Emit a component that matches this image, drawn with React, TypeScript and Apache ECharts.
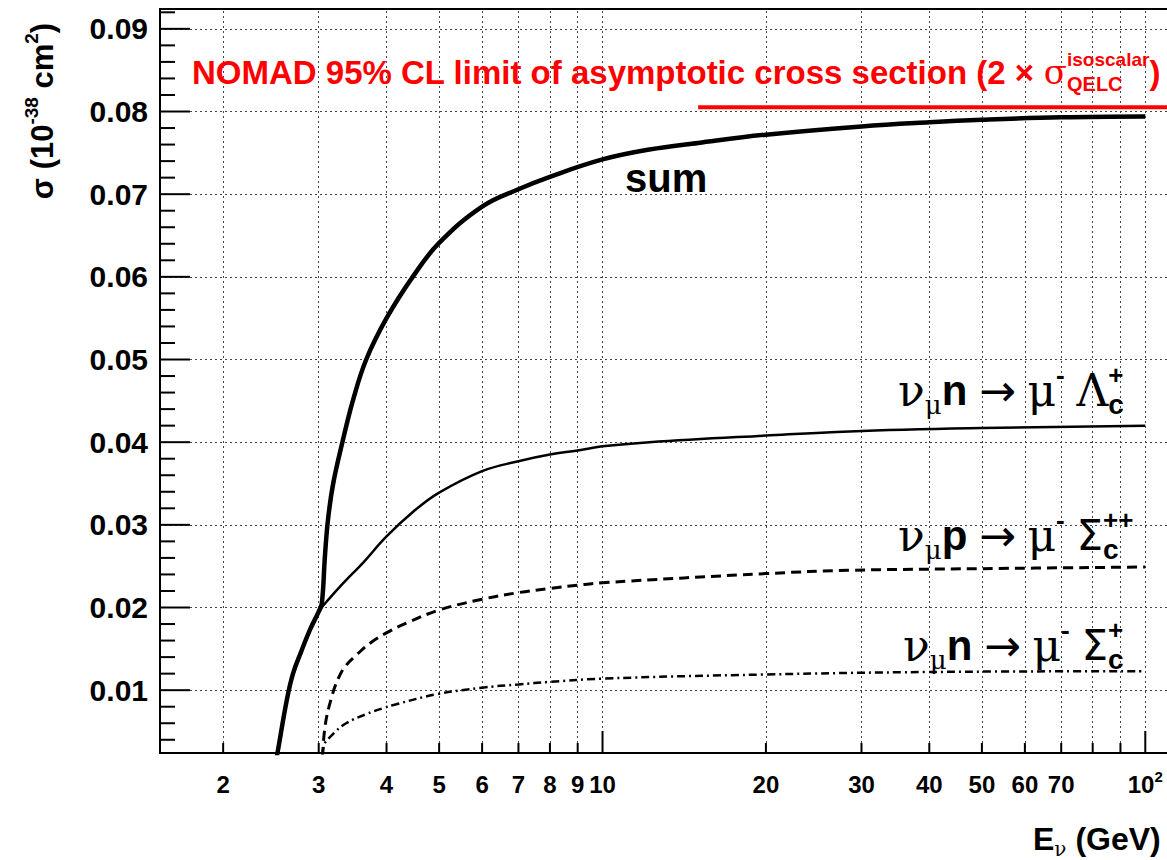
import React, { useEffect, useRef } from 'react';
import * as echarts from 'echarts';

// ---- data (E in GeV, sigma in 1e-38 cm^2) ----
const sumE = [2.48, 2.52, 2.62, 2.69, 2.79, 2.89, 3.0, 3.04, 3.08, 3.12, 3.19, 3.32, 3.47, 3.67, 4.0, 4.47, 5.0, 6.0, 7.0, 8.0, 10, 12.2, 15, 20, 30, 40, 50, 70, 100];
const sumSigma = [0.0, 0.0025, 0.0088, 0.012, 0.0148, 0.0173, 0.0195, 0.0205, 0.0262, 0.0306, 0.035, 0.0401, 0.0451, 0.05, 0.055, 0.06, 0.0641, 0.0685, 0.0706, 0.0721, 0.0742, 0.0754, 0.0762, 0.0772, 0.0782, 0.0787, 0.079, 0.0793, 0.0794];

const lambdaE = [2.47, 2.52, 2.62, 2.69, 2.79, 2.89, 3.0, 3.14, 3.28, 3.45, 3.62, 4.0, 4.5, 5.0, 6.0, 7.0, 8.0, 9.0, 10, 12.2, 20, 28.5, 50, 100];
const lambdaSigma = [0.0, 0.0025, 0.0088, 0.012, 0.0148, 0.0173, 0.0195, 0.0211, 0.0225, 0.024, 0.0254, 0.0286, 0.0317, 0.0339, 0.0365, 0.0377, 0.0385, 0.039, 0.0395, 0.04, 0.0408, 0.0413, 0.0417, 0.042];

const sigmaPPE = [3.04, 3.08, 3.18, 3.28, 3.37, 3.5, 3.75, 4.07, 4.35, 5.0, 6.0, 7.0, 8.0, 9.0, 10, 20, 28.5, 50, 100];
const sigmaPPSigma = [0.0, 0.0055, 0.0095, 0.0118, 0.013, 0.0141, 0.0158, 0.0172, 0.0181, 0.0197, 0.021, 0.0218, 0.0223, 0.0227, 0.023, 0.0241, 0.0245, 0.0247, 0.0249];

const sigmaPE = [3.04, 3.06, 3.2, 3.37, 3.67, 3.93, 4.17, 4.94, 6.0, 7.0, 8.0, 10, 20, 40, 100];
const sigmaPSigma = [0.0, 0.0031, 0.0048, 0.006, 0.0071, 0.0078, 0.0083, 0.0095, 0.0103, 0.0107, 0.011, 0.0114, 0.0119, 0.0122, 0.0123];

const nomadLimit = 0.0805;
const nomadStartE = 15;
const nomadEndE = 130;

// ---- axes ----
const X_MIN = 1.53;
const X_MAX = 112;
const Y_MIN = 0.0024;
const Y_MAX = 0.0924;
const xLabelValues = [2, 3, 4, 5, 6, 7, 8, 9, 10, 20, 30, 40, 50, 60, 70, 100];
const xMinorTicks = [2, 3, 4, 5, 6, 7, 8, 9, 20, 30, 40, 50, 60, 70, 80, 90];
const xMajorTicks = [10, 100];
const xGridValues = [2, 3, 4, 5, 6, 7, 8, 9, 10, 20, 30, 40, 50, 60, 70, 80, 90, 100];
const yMajorValues = [0.01, 0.02, 0.03, 0.04, 0.05, 0.06, 0.07, 0.08, 0.09];
const yMinorValues = [0.004, 0.006, 0.008, 0.012, 0.014, 0.016, 0.018, 0.022, 0.024, 0.026, 0.028, 0.032, 0.034, 0.036, 0.038, 0.042, 0.044, 0.046, 0.048, 0.052, 0.054, 0.056, 0.058, 0.062, 0.064, 0.066, 0.068, 0.072, 0.074, 0.076, 0.078, 0.082, 0.084, 0.086, 0.088, 0.092];

// ---- layout ----
const CHART_W = 1180;
const CHART_H = 860;
const GRID = { left: 160, top: 9, right: 8, bottom: 107 };
const GRID_W = CHART_W - GRID.left - GRID.right;
const GRID_H = CHART_H - GRID.top - GRID.bottom;

const SANS = "'Liberation Sans', Arial, Helvetica, sans-serif";
const GREEK = "'DejaVu Serif', 'Liberation Serif', serif";
const DEJAVU = "'DejaVu Sans', sans-serif";

const zip = (xs: number[], ys: number[]) => xs.map((x, i) => [x, ys[i]]);

// tick lengths (pixels) expressed in the axes' own units
const logSpan = Math.log10(X_MAX) - Math.log10(X_MIN);
const xAfterPixels = (px: number) => X_MIN * Math.pow(10, (px / GRID_W) * logSpan);
const yAfterPixels = (px: number) => Y_MIN + (px / GRID_H) * (Y_MAX - Y_MIN);

const tickSeries = (name: string, pts: number[][]) => ({
  name, type: 'line', z: 7, silent: true, symbol: 'none', animation: false, clip: false,
  data: pts, lineStyle: { color: '#000', width: 2 },
});

const reactionRich = {
  g: { fontFamily: GREEK, fontSize: 44, lineHeight: 56, verticalAlign: 'middle', fill: '#000' },
  gs: { fontFamily: GREEK, fontSize: 26, lineHeight: 26, verticalAlign: 'bottom', fill: '#000' },
  b: { fontFamily: SANS, fontWeight: 'bold', fontSize: 42, lineHeight: 56, verticalAlign: 'middle', fill: '#000' },
  ar: { fontFamily: DEJAVU, fontSize: 44, lineHeight: 56, verticalAlign: 'middle', fill: '#000' },
  sp: { fontFamily: SANS, fontWeight: 'bold', fontSize: 26, lineHeight: 26, verticalAlign: 'top', fill: '#000' },
  sb: { fontFamily: SANS, fontWeight: 'bold', fontSize: 28, lineHeight: 28, verticalAlign: 'bottom', fill: '#000', width: 0 },
  S: { fontFamily: DEJAVU, fontSize: 42, lineHeight: 56, verticalAlign: 'middle', fill: '#000' },
};

export default function App() {
  const ref = useRef<HTMLDivElement>(null);

  useEffect(() => {
    if (!ref.current) return;
    const chart = echarts.init(ref.current, null, { renderer: 'svg' });

    const ticks: any[] = [
      ...yMajorValues.map((v, i) => tickSeries('yMajorTick' + i, [[X_MIN, v], [xAfterPixels(30), v]])),
      ...yMinorValues.map((v, i) => tickSeries('yMinorTick' + i, [[X_MIN, v], [xAfterPixels(15), v]])),
      ...xMajorTicks.map((v, i) => tickSeries('xMajorTick' + i, [[v, Y_MIN], [v, yAfterPixels(22)]])),
      ...xMinorTicks.map((v, i) => tickSeries('xMinorTick' + i, [[v, Y_MIN], [v, yAfterPixels(10)]])),
    ];

    const option: any = {
      animation: false,
      backgroundColor: '#fff',
      textStyle: { fontFamily: SANS },
      grid: { ...GRID, show: true, borderColor: '#000', borderWidth: 2, backgroundColor: 'transparent' },
      xAxis: {
        type: 'log', logBase: 10, min: X_MIN, max: X_MAX, position: 'bottom',
        axisLine: { show: true, lineStyle: { color: '#000', width: 2 } },
        axisTick: { show: false },
        axisLabel: {
          show: true, customValues: xLabelValues, margin: 16,
          formatter: (v: number) => (Math.round(v) === 100 ? '{b|10}{s|2}' : `{b|${Math.round(v)}}`),
          rich: {
            b: { fontFamily: SANS, fontWeight: 'bold', fontSize: 24, color: '#000', lineHeight: 30, verticalAlign: 'middle' },
            s: { fontFamily: SANS, fontWeight: 'bold', fontSize: 15, color: '#000', lineHeight: 15, verticalAlign: 'top' },
          },
        },
        splitLine: { show: false },
      },
      yAxis: {
        type: 'value', min: Y_MIN, max: Y_MAX, position: 'left',
        axisLine: { show: true, lineStyle: { color: '#000', width: 2 } },
        axisTick: { show: false },
        axisLabel: {
          show: true, customValues: yMajorValues, margin: 12,
          formatter: (v: number) => v.toFixed(2),
          fontFamily: SANS, fontWeight: 'bold', fontSize: 30, color: '#000',
        },
        splitLine: { show: false },
      },
      series: [
        {
          name: 'NOMAD limit', type: 'line', z: 4,
          data: [[nomadStartE, nomadLimit], [nomadEndE, nomadLimit]],
          symbol: 'none', lineStyle: { color: '#ff0000', width: 4 },
          markLine: {
            silent: true, z: 1, symbol: ['none', 'none'], animation: false,
            label: { show: false },
            lineStyle: { color: '#444', width: 1, type: [2, 3] },
            data: [
              ...xGridValues.map((v) => ({ xAxis: v })),
              ...yMajorValues.map((v) => ({ yAxis: v })),
            ],
          },
        },
        {
          name: 'sum', type: 'line', z: 5,
          data: zip(sumE, sumSigma), symbol: 'none', smooth: 0.4,
          lineStyle: { color: '#000', width: 4.5 },
        },
        {
          name: 'Lambda_c', type: 'line', z: 5,
          data: zip(lambdaE, lambdaSigma), symbol: 'none', smooth: 0.4,
          lineStyle: { color: '#000', width: 2.5 },
        },
        {
          name: 'Sigma_c++', type: 'line', z: 5,
          data: zip(sigmaPPE, sigmaPPSigma), symbol: 'none', smooth: 0.4,
          lineStyle: { color: '#000', width: 3, type: [10, 6] },
        },
        {
          name: 'Sigma_c+', type: 'line', z: 5,
          data: zip(sigmaPE, sigmaPSigma), symbol: 'none', smooth: 0.4,
          lineStyle: { color: '#000', width: 2.5, type: [8, 4, 2, 4] },
        },
        ...ticks,
      ],
      graphic: [
        {
          type: 'text', x: 192, y: 72, z: 10,
          style: {
            text: '{r|NOMAD 95% CL limit of asymptotic cross section (2 × }{g|σ}{sb|QELC}{sp|isoscalar}{r|)}',
            align: 'left', verticalAlign: 'middle',
            rich: {
              r: { fontFamily: SANS, fontWeight: 'bold', fontSize: 33, lineHeight: 44, verticalAlign: 'middle', fill: '#ff0000' },
              g: { fontFamily: GREEK, fontSize: 34, lineHeight: 44, verticalAlign: 'middle', fill: '#ff0000' },
              sb: { fontFamily: SANS, fontWeight: 'bold', fontSize: 20, lineHeight: 20, verticalAlign: 'bottom', fill: '#ff0000', width: 0 },
              sp: { fontFamily: SANS, fontWeight: 'bold', fontSize: 19, lineHeight: 20, verticalAlign: 'top', fill: '#ff0000' },
            },
          },
        },
        {
          type: 'text', x: 625, y: 178, z: 10,
          style: { text: 'sum', fontFamily: SANS, fontWeight: 'bold', fontSize: 40, fill: '#000', align: 'left', verticalAlign: 'middle' },
        },
        {
          type: 'text', x: 898, y: 390, z: 10,
          style: { text: '{g|ν}{gs|μ}{b|n }{ar|→}{b| }{g|μ}{sp|-}{b| }{g|Λ}{sb|c}{sp|+}', align: 'left', verticalAlign: 'middle', rich: reactionRich },
        },
        {
          type: 'text', x: 898, y: 535, z: 10,
          style: { text: '{g|ν}{gs|μ}{b|p }{ar|→}{b| }{g|μ}{sp|-}{b| }{S|Σ}{sb|c}{sp|++}', align: 'left', verticalAlign: 'middle', rich: reactionRich },
        },
        {
          type: 'text', x: 903, y: 645, z: 10,
          style: { text: '{g|ν}{gs|μ}{b|n }{ar|→}{b| }{g|μ}{sp|-}{b| }{S|Σ}{sb|c}{sp|+}', align: 'left', verticalAlign: 'middle', rich: reactionRich },
        },
        {
          type: 'text', x: 1033, y: 839, z: 10,
          style: {
            text: '{b|E}{s|ν}{b| (GeV)}', align: 'left', verticalAlign: 'middle',
            rich: {
              b: { fontFamily: SANS, fontWeight: 'bold', fontSize: 32, lineHeight: 40, verticalAlign: 'middle', fill: '#000' },
              s: { fontFamily: GREEK, fontSize: 20, lineHeight: 18, verticalAlign: 'bottom', fill: '#000' },
            },
          },
        },
        {
          type: 'text', x: 42, y: 111, rotation: Math.PI / 2, z: 10,
          style: {
            text: '{b|σ (10}{s|-38}{b| cm}{s|2}{b|)}', align: 'center', verticalAlign: 'middle',
            rich: {
              b: { fontFamily: SANS, fontWeight: 'bold', fontSize: 31, lineHeight: 40, verticalAlign: 'middle', fill: '#000' },
              s: { fontFamily: SANS, fontWeight: 'bold', fontSize: 19, lineHeight: 19, verticalAlign: 'top', fill: '#000' },
            },
          },
        },
      ],
    };

    chart.setOption(option);
    return () => chart.dispose();
  }, []);

  return <div ref={ref} style={{ position: 'absolute', left: 0, top: 0, width: CHART_W, height: CHART_H }} />;
}
